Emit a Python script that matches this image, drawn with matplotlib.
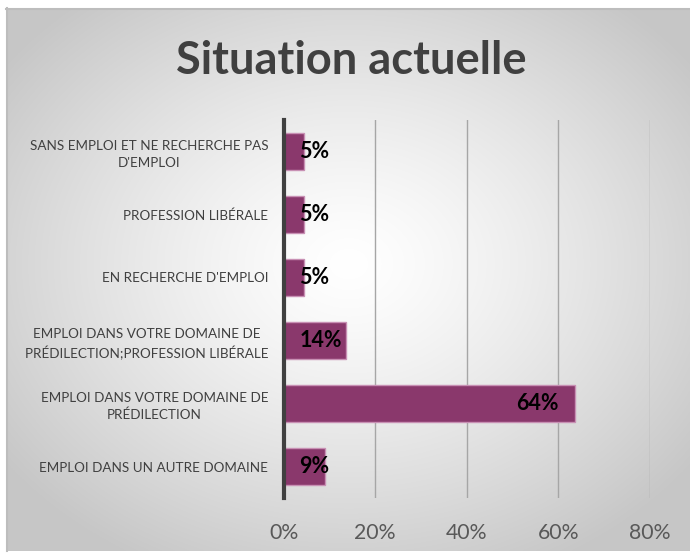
import numpy as np
import matplotlib
matplotlib.use("Agg")
import matplotlib.pyplot as plt

categories = [
    "SANS EMPLOI ET NE RECHERCHE PAS\nD'EMPLOI",
    "PROFESSION LIBÉRALE",
    "EN RECHERCHE D'EMPLOI",
    "EMPLOI DANS VOTRE DOMAINE DE\nPRÉDILECTION;PROFESSION LIBÉRALE",
    "EMPLOI DANS VOTRE DOMAINE DE\nPRÉDILECTION",
    "EMPLOI DANS UN AUTRE DOMAINE",
]
values = [4.5, 4.5, 4.5, 13.6, 63.6, 9.1]
labels = ["5%", "5%", "5%", "14%", "64%", "9%"]
xticks = [0, 20, 40, 60, 80]
xticklabels = ["0%", "20%", "40%", "60%", "80%"]
title = "Situation actuelle"

FONT = "Lato"
W, H = 690, 555
fig = plt.figure(figsize=(W / 100, H / 100), dpi=100)
fig.patch.set_facecolor("white")

# background box with radial gradient
bx0, by0, bx1, by1 = 6, 8, 690, 551  # pixels from top-left
bg = fig.add_axes([bx0 / W, 1 - by1 / H, (bx1 - bx0) / W, (by1 - by0) / H])
ny, nx = 300, 380
yy, xx = np.mgrid[0:ny, 0:nx]
cx, cy = nx * 0.5, ny * 0.47
r = np.sqrt(((xx - cx) / (nx * 0.62)) ** 2 + ((yy - cy) / (ny * 0.62)) ** 2)
r = np.clip(r, 0, 1)
val = 1.0 - 0.22 * r ** 1.3
img = np.dstack([val, val, val])
bg.imshow(img, aspect="auto", extent=[0, 1, 0, 1], interpolation="bilinear")
bg.set_xlim(0, 1)
bg.set_ylim(0, 1)
bg.set_xticks([])
bg.set_yticks([])
for s in bg.spines.values():
    s.set_visible(False)
bg.plot([0, 1], [0.998, 0.998], color="#BDBDBD", lw=1.5, transform=bg.transAxes, clip_on=False)
bg.plot([0.001, 0.001], [0, 1], color="#BDBDBD", lw=1.5, transform=bg.transAxes, clip_on=False)

# main axes
x0px, x1px = 283.5, 650.0
ytop, ybot = 120.0, 498.0
ax = fig.add_axes([x0px / W, 1 - ybot / H, (x1px - x0px) / W, (ybot - ytop) / H])
ax.patch.set_alpha(0)
n = len(categories)
ypos = np.arange(n)
ax.barh(ypos, values, height=0.59, color="#8A386C", edgecolor="#C890B4", linewidth=1.0, zorder=3)
ax.set_xlim(0, 80)
ax.set_ylim(n - 0.5, -0.5)
ax.set_xticks(xticks)
ax.set_xticklabels(xticklabels, fontsize=15.3, color="#595959", family=FONT)
ax.set_yticks(ypos)
ax.set_yticklabels(categories, fontsize=9.7, color="#404040", family=FONT,
                   multialignment="center", linespacing=1.45)
ax.tick_params(axis="x", length=0, pad=18)
ax.tick_params(axis="y", length=0, pad=11)
ax.grid(axis="x", color="#A6A6A6", lw=1.0, zorder=1)
for k in ["top", "right", "bottom"]:
    ax.spines[k].set_visible(False)
ax.spines["left"].set_color("#404040")
ax.spines["left"].set_linewidth(3)
ax.spines["left"].set_zorder(4)

fig.text(0.5095, 1 - 61 / H, title, ha="center", va="center", fontsize=32.6,
         fontweight="bold", color="#404040", family=FONT)

# bar labels: inside end, or at start if too short
fig.canvas.draw()
renderer = fig.canvas.get_renderer()
pad = 16
for yi, (v, lab) in enumerate(zip(values, labels)):
    t = ax.annotate(lab, (v, yi), xytext=(-pad * 0.72, 0), textcoords="offset points",
                    ha="right", va="center", fontsize=15.5, fontweight="bold",
                    color="black", family=FONT, zorder=5)
    bb = t.get_window_extent(renderer)
    tw = bb.width
    barlen = ax.transData.transform((v, 0))[0] - ax.transData.transform((0, 0))[0]
    if barlen < tw + 2 * pad:
        t.remove()
        ax.annotate(lab, (0, yi), xytext=(pad * 0.72, 0), textcoords="offset points",
                    ha="left", va="center", fontsize=15.5, fontweight="bold",
                    color="black", family=FONT, zorder=5)

fig.savefig("out.png", dpi=100, facecolor="white")
